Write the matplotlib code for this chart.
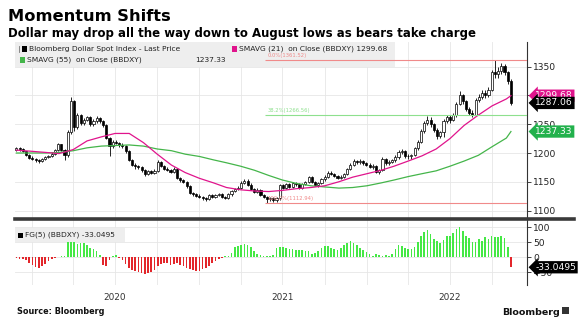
import numpy as np
import pandas as pd
import matplotlib
matplotlib.use("Agg")
import matplotlib.pyplot as plt
import matplotlib.dates as mdates
from matplotlib.patches import Rectangle
from matplotlib.lines import Line2D

# BBDXY weekly candles (Friday closes), first week ending 2019-11-29
week_start = "2019-11-29"
first_open = 1206
closes = [
    1208, 1207, 1203, 1197, 1192, 1190, 1188, 1186, 1189, 1193,
    1195, 1199, 1205, 1215, 1205, 1196, 1236, 1290, 1245, 1266,
    1252, 1258, 1262, 1250, 1256, 1261, 1255, 1248, 1226, 1212,
    1220, 1218, 1214, 1212, 1203, 1188, 1180, 1177, 1175, 1170,
    1163, 1168, 1166, 1169, 1184, 1177, 1172, 1171, 1167, 1172,
    1156, 1153, 1149, 1142, 1131, 1128, 1126, 1124, 1121, 1120,
    1127, 1124, 1127, 1128, 1124, 1122, 1128, 1134, 1137, 1140,
    1148, 1152, 1145, 1138, 1133, 1136, 1127, 1124, 1120, 1121,
    1118, 1121, 1144, 1140, 1146, 1141, 1147, 1146, 1140, 1146,
    1149, 1158, 1150, 1144, 1148, 1155, 1159, 1166, 1164, 1160,
    1157, 1159, 1163, 1172, 1180, 1186, 1184, 1186, 1183, 1180,
    1176, 1178, 1167, 1170, 1190, 1182, 1185, 1188, 1193, 1202,
    1204, 1195, 1194, 1197, 1208, 1220, 1238, 1252, 1258, 1250,
    1240, 1230, 1236, 1255, 1262, 1258, 1266, 1285, 1300, 1290,
    1276, 1270, 1266, 1292, 1298, 1305, 1300, 1310, 1340, 1338,
    1342, 1352, 1340, 1325, 1287.06,
]
highs = [
    1211, 1210, 1208, 1204, 1199, 1195, 1192, 1190, 1191, 1195,
    1197, 1201, 1207, 1218, 1216, 1207, 1240, 1297, 1293, 1270,
    1268, 1261, 1265, 1264, 1259, 1264, 1263, 1257, 1250, 1228,
    1223, 1222, 1220, 1217, 1214, 1205, 1190, 1182, 1179, 1177,
    1172, 1170, 1170, 1172, 1187, 1186, 1179, 1175, 1173, 1175,
    1174, 1158, 1155, 1151, 1144, 1133, 1130, 1128, 1126, 1124,
    1129, 1129, 1129, 1130, 1130, 1126, 1130, 1136, 1139, 1143,
    1151, 1155, 1154, 1147, 1140, 1139, 1138, 1129, 1126, 1123,
    1123, 1123, 1146, 1146, 1148, 1148, 1149, 1150, 1148, 1148,
    1152, 1160, 1160, 1152, 1150, 1157, 1161, 1168, 1169, 1166,
    1162, 1162, 1165, 1174, 1182, 1189, 1188, 1189, 1188, 1185,
    1182, 1181, 1180, 1172, 1193, 1191, 1188, 1190, 1196, 1205,
    1207, 1206, 1198, 1199, 1210, 1223, 1241, 1255, 1265, 1262,
    1253, 1243, 1239, 1259, 1266, 1266, 1270, 1288, 1307, 1303,
    1293, 1280, 1274, 1295, 1302, 1309, 1310, 1314, 1345, 1361.52,
    1349, 1356, 1355, 1342, 1329,
]
lows = [
    1203, 1204, 1201, 1195, 1190, 1187, 1185, 1183, 1184, 1187,
    1191, 1193, 1197, 1203, 1203, 1188, 1193, 1233, 1238, 1242,
    1249, 1249, 1255, 1247, 1247, 1253, 1252, 1245, 1224, 1195,
    1209, 1215, 1211, 1209, 1200, 1186, 1178, 1173, 1172, 1167,
    1160, 1161, 1163, 1164, 1167, 1175, 1170, 1168, 1165, 1165,
    1154, 1150, 1147, 1140, 1129, 1125, 1123, 1121, 1118, 1116,
    1118, 1122, 1122, 1125, 1122, 1120, 1120, 1126, 1132, 1135,
    1138, 1146, 1143, 1136, 1131, 1131, 1125, 1121, 1112.94, 1117,
    1115, 1115, 1119, 1137, 1138, 1139, 1139, 1143, 1138, 1138,
    1144, 1147, 1148, 1142, 1141, 1146, 1152, 1157, 1161, 1158,
    1154, 1155, 1157, 1161, 1170, 1178, 1181, 1181, 1180, 1177,
    1174, 1173, 1165, 1163, 1168, 1179, 1180, 1182, 1185, 1190,
    1198, 1192, 1190, 1190, 1194, 1205, 1217, 1235, 1248, 1246,
    1236, 1224, 1226, 1228, 1252, 1253, 1255, 1262, 1283, 1285,
    1273, 1266, 1262, 1264, 1288, 1294, 1296, 1297, 1308, 1330,
    1330, 1338, 1335, 1320, 1283,
]
# FG(5) oscillator, one value per week
fg5 = [
    -3, -5, -6, -10, -18, -25, -32, -35, -30, -22,
    -12, -6, -3, 2, 6, 3, 58, 60, 59, 44,
    46, 49, 42, 30, 27, 20, 8, -26, -28, -10,
    3, 7, -2, -8, -22, -35, -42, -45, -48, -52,
    -56, -53, -50, -42, -30, -22, -18, -20, -24, -22,
    -18, -25, -30, -35, -38, -42, -45, -44, -40, -35,
    -28, -20, -12, -6, -3, 3, 5, 15, 35, 38,
    40, 45, 42, 35, 20, 12, 8, 6, 3, 5,
    7, 30, 35, 35, 30, 28, 28, 25, 23, 25,
    22, 20, 10, 15, 22, 30, 36, 39, 32, 27,
    24, 30, 40, 48, 55, 48, 40, 32, 25, 18,
    10, 5, 10, 9, 6, 8, 4, 10, 28, 40,
    36, 30, 28, 26, 35, 52, 72, 85, 91, 78,
    62, 55, 48, 58, 70, 72, 80, 95, 102, 88,
    70, 63, 50, 52, 60, 55, 66, 62, 70, 68,
    66, 70, 65, 35, -33.0495,
]

# moving averages on close
sma_dates = ["2019-11-29"] + [d.strftime("%Y-%m-%d") for d in
             pd.date_range("2020-01-01", "2022-11-01", freq="MS")] + ["2022-11-11"]
sma21 = [1205, 1203, 1201, 1199, 1206, 1221, 1228, 1234, 1234, 1218,
         1198, 1179, 1166, 1156, 1148, 1140, 1136, 1134, 1133, 1135,
         1138, 1140, 1143, 1150, 1158, 1164, 1170, 1177, 1186, 1195,
         1207, 1225, 1248, 1266, 1282, 1294, 1299.68]
sma55 = [1200, 1200, 1200, 1201, 1204, 1209, 1212, 1213, 1214, 1212,
         1207, 1204, 1198, 1194, 1188, 1183, 1177, 1170, 1161, 1153,
         1147, 1143, 1141, 1139, 1140, 1143, 1148, 1153, 1159, 1164,
         1169, 1177, 1186, 1196, 1211, 1226, 1237.33]

fib_start = "2021-05-24"
fib_levels = [1361.52, 1266.56, 1112.94]
fib_labels = ["0.0%(1361.52)", "38.2%(1266.56)", "100.0%(1112.94)"]
fib_colors = ["#f08a8a", "#8ee08e", "#f08a8a"]

price_ticks = [1100, 1150, 1200, 1250, 1300, 1350]
fg_ticks = [-50, 0, 50, 100]
year_labels = ["2020", "2021", "2022"]

PINK = "#e0148c"
GREEN = "#44b54a"
BAR_GREEN = "#45e845"
BAR_RED = "#e3262b"
GRID = "#e6e6e6"

W, H = 586, 328


def fx(px):
    return px / W


def fy(py):
    return 1 - py / H


weeks = mdates.date2num(pd.date_range(week_start, periods=len(closes), freq="7D"))
c = np.array(closes, dtype=float)
o = np.array([first_open] + closes[:-1], dtype=float)
up = c >= o

fig = plt.figure(figsize=(W / 100, H / 100), dpi=100)
ax = fig.add_axes([fx(15), fy(218), fx(527) - fx(15), (218 - 42) / H])
ax2 = fig.add_axes([fx(15), fy(285), fx(527) - fx(15), (285 - 220) / H])

# candles
ax.vlines(weeks, lows, highs, color="black", lw=0.6, zorder=3)
ax.bar(weeks[up], np.maximum(c - o, 0.8)[up], bottom=o[up], width=4.6,
       color="white", edgecolor="black", linewidth=0.5, zorder=4)
ax.bar(weeks[~up], np.maximum(o - c, 0.8)[~up], bottom=c[~up], width=4.6,
       color="black", edgecolor="black", linewidth=0.5, zorder=4)

sx = mdates.date2num(pd.to_datetime(sma_dates))
ax.plot(sx, sma55, color=GREEN, lw=0.9, zorder=5)
ax.plot(sx, sma21, color=PINK, lw=0.9, zorder=5)

x0 = mdates.date2num(pd.Timestamp("2019-11-26"))
x1 = mdates.date2num(pd.Timestamp("2022-12-16"))
ax.set_ylim(1087, 1393)
ax2.set_ylim(-92, 124)

# fibonacci levels
fs = mdates.date2num(pd.Timestamp(fib_start))
for lev, lab, col in zip(fib_levels, fib_labels, fib_colors):
    ax.hlines(lev, fs, x1, color=col, lw=0.8, zorder=7)
    ax.text(fs + 6, lev + 3, lab, fontsize=3.8, color=col, va="bottom", ha="left", zorder=7)

# FG(5) histogram
fg = np.array(fg5)
ax2.bar(weeks, fg, width=3.6, color=np.where(fg >= 0, BAR_GREEN, BAR_RED), zorder=3)

# grids and axes
quarters = mdates.date2num(pd.date_range("2020-01-01", "2022-10-01", freq="QS"))
mid_years = mdates.date2num(pd.to_datetime(["2020-07-01", "2021-07-01", "2022-07-01"]))
for a in (ax, ax2):
    a.set_xlim(x0, x1)
    a.set_xticks(quarters)
    a.set_xticklabels([""] * len(quarters))
    a.grid(True, color=GRID, lw=0.6, zorder=0)
    a.set_axisbelow(True)
    for s in ("top", "left", "bottom"):
        a.spines[s].set_visible(False)
    a.spines["right"].set_color("#333333")
    a.spines["right"].set_linewidth(0.8)
    a.yaxis.tick_right()
    a.tick_params(axis="y", length=3, width=0.6, pad=1.5, labelsize=6.6, colors="#222222")
    a.tick_params(axis="x", which="major", length=0)
ax.set_yticks(price_ticks)
ax2.set_yticks(fg_ticks)
# year labels sit on quarter gridlines, so keep minor ticks that overlap majors
ax2.xaxis.remove_overlapping_locs = False
ax2.set_xticks(mid_years, minor=True)
ax2.set_xticklabels(year_labels, minor=True)
ax2.tick_params(axis="x", which="minor", length=0, pad=6, labelsize=6.4, labelcolor="#333333")

# separator between panels
fig.add_artist(Line2D([fx(15), fx(574)], [fy(219), fy(219)], lw=2.6, color="#3a3a3a"))

# legend boxes
ax.add_patch(Rectangle((fx(15), fy(67)), fx(395) - fx(15), 25 / H, transform=fig.transFigure,
                       fc="#eeeeee", ec="none", zorder=6))
ax2.add_patch(Rectangle((fx(15), fy(242)), fx(125) - fx(15), 14 / H, transform=fig.transFigure,
                        fc="#eeeeee", ec="none", zorder=6))
leg_fs = 5.4
for (px, py, col) in [(22, 49, "black"), (232, 49, PINK), (20, 60, GREEN), (18, 235, "black")]:
    fig.add_artist(Rectangle((fx(px), fy(py + 2.5)), 5 / W, 5 / H, transform=fig.transFigure,
                             fc=col, ec="none", zorder=8))
fig.add_artist(Line2D([fx(19), fx(19)], [fy(46), fy(52)], lw=0.6, color="#777777", zorder=8))
fig.text(fx(29), fy(49), "Bloomberg Dollar Spot Index - Last Price", fontsize=leg_fs,
         va="center", color="#222222", zorder=9)
fig.text(fx(239), fy(49), "SMAVG (21)  on Close (BBDXY) 1299.68", fontsize=leg_fs,
         va="center", color="#222222", zorder=9)
fig.text(fx(27), fy(60), "SMAVG (55)  on Close (BBDXY)", fontsize=leg_fs,
         va="center", color="#222222", zorder=9)
fig.text(fx(195), fy(60), "1237.33", fontsize=leg_fs, va="center", color="#222222", zorder=9)
fig.text(fx(25), fy(235), "FG(5) (BBDXY) -33.0495", fontsize=leg_fs,
         va="center", color="#222222", zorder=9)

# last value tags on the right axis
tags = [(ax, sma21[-1], "1299.68", PINK),
        (ax, closes[-1], "1287.06", "black"),
        (ax, sma55[-1], "1237.33", "#22b14c"),
        (ax2, fg5[-1], "-33.0495", "black")]
for a, val, lab, col in tags:
    a.text(1.016, val, lab, transform=a.get_yaxis_transform(), ha="left", va="center",
           fontsize=6.6, color="white", clip_on=False, zorder=10,
           bbox=dict(boxstyle="larrow,pad=0.18", fc=col, ec="none"))

# titles and footer
fig.text(fx(8), fy(21), "Momentum Shifts", fontsize=11.7, fontweight="bold", color="black")
fig.text(fx(8), fy(37), "Dollar may drop all the way down to August lows as bears take charge",
         fontsize=8.45, fontweight="bold", color="black")
fig.text(fx(17), fy(314), "Source: Bloomberg", fontsize=5.9, fontweight="bold", color="#111111")
fig.text(fx(502), fy(315), "Bloomberg", fontsize=6.8, fontweight="bold", color="#111111")
fig.add_artist(Rectangle((fx(562), fy(314)), 7 / W, 7 / H, transform=fig.transFigure,
                         fc="#333333", ec="none"))

fig.savefig("out.png", dpi=100)
